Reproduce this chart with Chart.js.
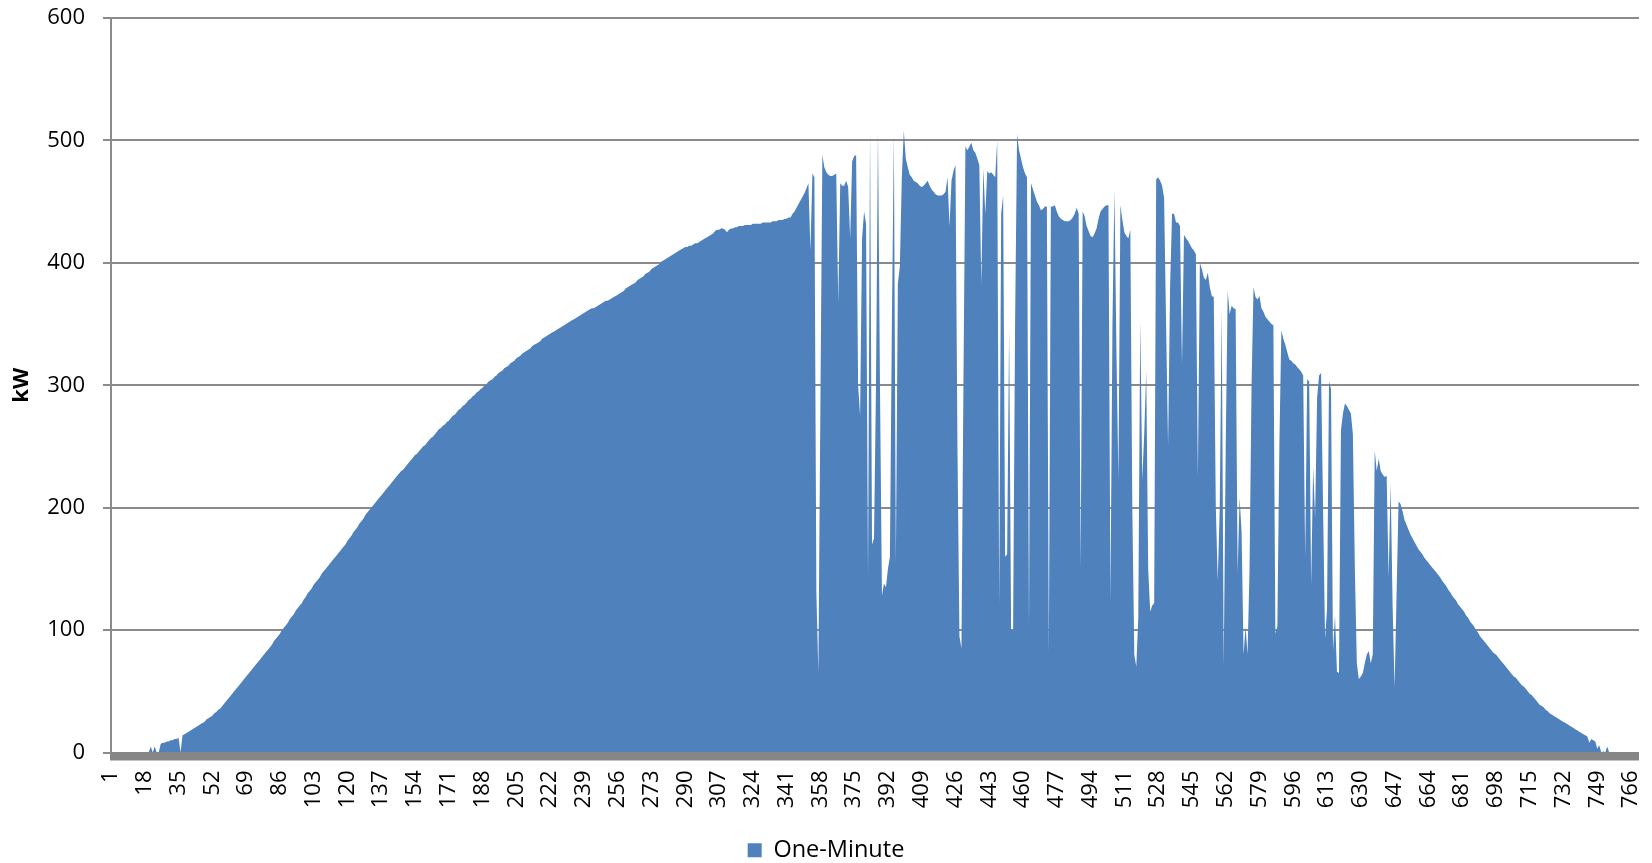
<!DOCTYPE html>
<html>
<head>
<meta charset="utf-8">
<title>One-Minute kW</title>
<script src="https://cdn.jsdelivr.net/npm/chart.js@4/dist/chart.umd.min.js"></script>
<style>
  html, body { margin: 0; padding: 0; background: #ffffff; }
  canvas { display: block; }
</style>
</head>
<body>
<canvas id="graficoMinuto" width="1652" height="863"></canvas>
<script>
// leituras de um minuto (kW), 1 valor por minuto
const oneMinute = [
  0,0,0,0,0,0,0,0,0,0,
  0,0,0,0,0,0,0,0,0,0,
  5,0,5,0,0,7,8,8,9,9,
  10,10,11,11,12,0,14,15,16,17,
  18,19,20,21,22,23,24,25,27,28,
  29,30,32,33,35,36,38,40,42,44,
  46,48,50,52,54,56,58,60,62,64,
  66,68,70,72,74,76,78,80,82,84,
  86,88,91,93,95,97,100,102,104,106,
  109,111,113,116,118,120,122,125,127,130,
  132,134,137,139,141,143,146,148,150,152,
  154,156,158,160,162,164,166,168,170,173,
  175,177,180,182,184,187,189,191,194,196,
  198,200,202,204,206,208,210,212,214,216,
  218,220,222,224,226,228,230,231,233,235,
  237,239,241,243,244,246,248,250,251,253,
  255,257,258,260,262,264,265,267,268,270,
  271,273,275,276,278,280,281,283,284,286,
  288,289,291,292,294,295,297,298,300,301,
  303,304,305,307,308,310,311,312,314,315,
  316,318,319,320,322,323,324,326,327,328,
  329,330,332,333,334,335,336,338,339,340,
  341,342,343,344,345,346,347,348,349,350,
  351,352,353,354,355,356,357,358,359,360,
  361,362,363,363,364,365,366,367,368,369,
  369,370,371,372,373,374,375,376,377,379,
  380,381,382,383,384,386,387,388,389,391,
  392,393,395,396,397,398,399,401,402,403,
  404,405,406,407,408,409,410,411,412,413,
  413,414,414,415,416,416,417,418,419,420,
  421,422,423,424,426,427,427,428,428,427,
  425,427,428,428,429,429,430,430,430,431,
  431,431,431,432,432,432,432,432,433,433,
  433,433,433,434,434,434,435,435,435,436,
  436,437,437,440,442,445,448,451,454,457,
  461,465,410,473,470,130,65,280,488,478,
  474,472,471,471,472,473,367,465,463,463,
  467,462,420,483,487,488,300,275,420,442,
  432,143,508,170,175,300,508,300,128,138,
  135,150,160,350,505,155,383,397,470,508,
  485,478,472,470,467,466,465,463,462,463,
  465,467,463,460,458,456,455,455,455,456,
  458,470,430,467,475,480,250,95,85,300,
  495,492,495,498,492,490,485,480,382,477,
  440,475,473,474,472,470,500,120,440,455,
  160,162,347,100,100,350,505,492,485,478,
  473,470,103,465,460,455,450,447,443,444,
  446,446,80,446,446,447,442,438,436,435,
  434,434,434,435,437,440,445,440,150,442,
  438,430,426,422,421,424,428,436,442,444,
  446,447,447,123,350,460,330,223,447,435,
  425,422,420,427,200,80,70,110,353,223,
  260,312,150,115,120,122,468,470,467,463,
  453,350,250,380,440,440,433,433,430,317,
  423,420,418,415,412,410,407,225,400,395,
  388,386,392,380,373,372,202,140,200,363,
  70,250,377,358,365,363,362,147,208,180,
  80,103,80,150,300,380,372,370,373,363,
  360,356,354,352,350,349,97,103,250,345,
  338,333,327,321,320,318,317,315,313,311,
  308,160,305,303,137,233,192,290,308,310,
  200,93,117,303,297,83,112,66,65,263,
  277,285,283,280,277,260,150,73,60,62,
  65,73,80,83,73,80,247,230,240,230,
  227,225,226,143,220,120,53,130,205,203,
  197,190,186,182,178,175,172,169,166,164,
  162,159,157,155,153,151,149,147,145,143,
  140,138,136,133,131,128,126,124,121,119,
  117,115,112,110,107,105,103,100,98,95,
  93,91,89,87,85,83,81,80,78,76,
  74,72,70,68,66,64,62,61,59,57,
  55,54,52,50,48,47,45,43,41,39,
  38,37,35,34,32,31,30,29,28,27,
  26,25,24,23,22,21,20,19,18,17,
  16,15,14,13,8,11,10,9,3,6,
  0,1,0,5,0,0,0,0,0,0,
  0,0,0,0,0,0,0,0,0,0
];

// categorias: número do minuto (1, 2, 3 ...)
const minutes = oneMinute.map((v, i) => String(i + 1));

// rótulos do eixo x aparecem a cada 17 minutos (1, 18, 35 ...)
const labelStep = 17;

// eixo y
const yTicks = [0, 100, 200, 300, 400, 500, 600];

const seriesName = 'One-Minute';
const axisTitle = 'kW';

const azul = '#4F81BD';
const cinza = '#8a8a8a';

Chart.defaults.font.family = "'Open Sans', sans-serif";
Chart.defaults.color = '#000000';

// faixa cinza grossa do eixo x (como no Excel)
const faixaEixo = {
  id: 'faixaEixo',
  afterDatasetsDraw(chart) {
    const { ctx, chartArea } = chart;
    ctx.save();
    ctx.fillStyle = '#868686';
    ctx.fillRect(chartArea.left - 1, chartArea.bottom, chartArea.right - chartArea.left + 1, 8);
    ctx.restore();
  }
};

const ctx = document.getElementById('graficoMinuto').getContext('2d');

new Chart(ctx, {
  type: 'line',
  data: {
    labels: minutes,
    datasets: [{
      label: seriesName,
      data: oneMinute,
      fill: 'origin',
      backgroundColor: azul,
      borderColor: 'rgba(0,0,0,0)',
      borderWidth: 0,
      pointRadius: 0,
      pointHoverRadius: 0,
      tension: 0
    }]
  },
  options: {
    responsive: false,
    animation: false,
    devicePixelRatio: 1,
    // a margem direita vem do eixo x (afterFit), assim a legenda fica centrada no canvas
    layout: { padding: { left: 0, right: 0, top: 18, bottom: -9 } },
    plugins: {
      tooltip: { enabled: false },
      legend: {
        position: 'bottom',
        labels: {
          boxWidth: 14,
          boxHeight: 14,
          padding: 10,
          font: { size: 23.5 }
        }
      }
    },
    scales: {
      x: {
        type: 'category',
        offset: false,
        grid: { display: false, drawTicks: false },
        border: { display: false },
        ticks: {
          autoSkip: false,
          minRotation: 90,
          maxRotation: 90,
          padding: 18,
          font: { size: 22 },
          callback: function(value, index) {
            return index % labelStep === 0 ? this.getLabelForValue(value) : null;
          }
        },
        afterFit: (scale) => {
          scale.height = 76;
          scale.paddingLeft = 0;
          scale.paddingRight = 13;
        }
      },
      y: {
        min: yTicks[0],
        max: yTicks[yTicks.length - 1],
        grid: {
          color: cinza,
          lineWidth: 2,
          drawTicks: true,
          tickLength: 8
        },
        border: { display: true, color: cinza, width: 2 },
        ticks: {
          stepSize: yTicks[1] - yTicks[0],
          padding: 18,
          font: { size: 22 }
        },
        title: {
          display: true,
          text: axisTitle,
          font: { size: 22, weight: 'bold' },
          padding: { top: 9, bottom: 0 }
        },
        afterFit: (scale) => {
          scale.width = 111;
          scale.paddingTop = 0;
          scale.paddingBottom = 0;
        }
      }
    }
  },
  plugins: [faixaEixo]
});
</script>
</body>
</html>
